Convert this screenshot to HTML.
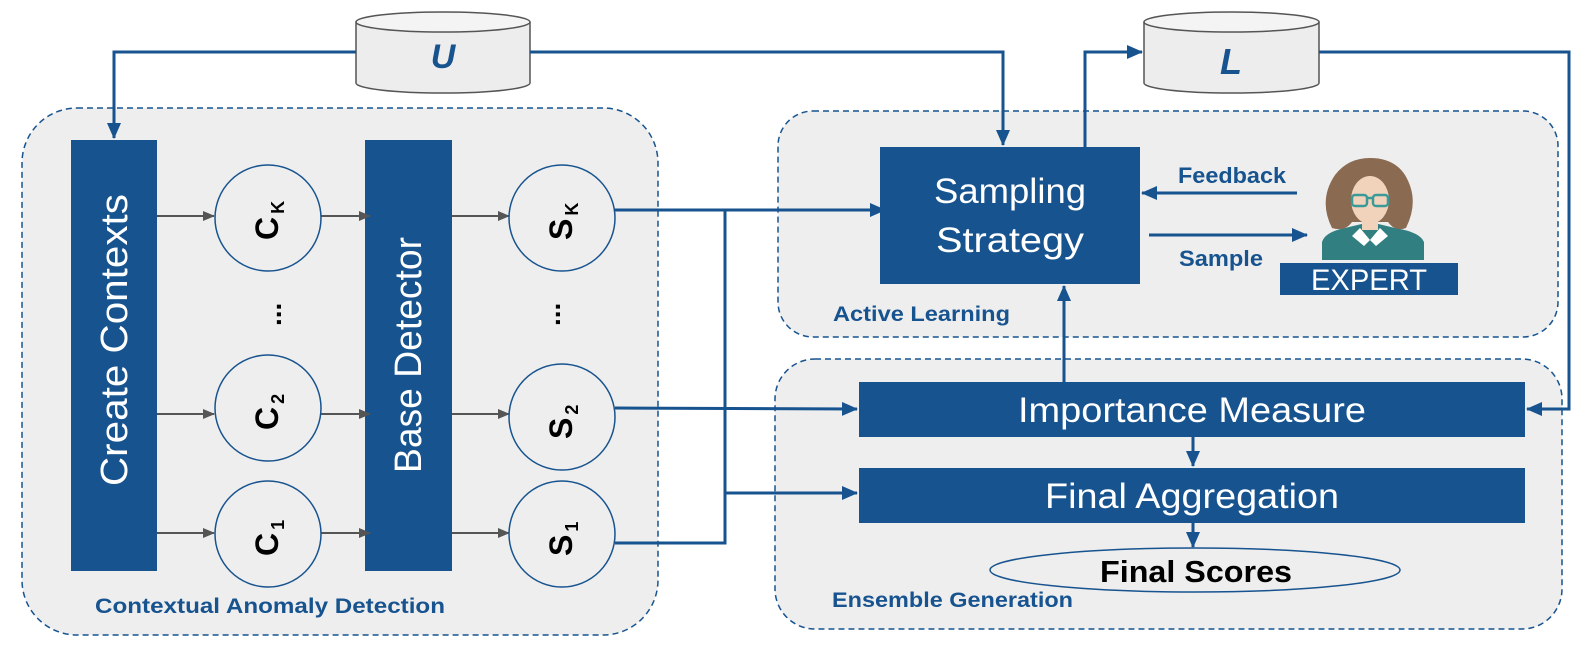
<!DOCTYPE html>
<html><head><meta charset="utf-8"><style>
html,body{margin:0;padding:0;background:#fff}
svg{display:block}
text{font-family:"Liberation Sans",sans-serif}
</style></head><body>
<svg width="1586" height="652" viewBox="0 0 1586 652" xmlns="http://www.w3.org/2000/svg">
<defs>
<marker id="ag" markerWidth="12" markerHeight="10" refX="11" refY="5" orient="auto" markerUnits="userSpaceOnUse" viewBox="0 0 12 10"><path d="M0,0 L12,5 L0,10 z" fill="#555"/></marker>
<marker id="abL" markerWidth="16" markerHeight="14" refX="15" refY="7" orient="auto" markerUnits="userSpaceOnUse" viewBox="0 0 16 14"><path d="M0,0 L16,7 L0,14 z" fill="#17538f"/></marker>
</defs>
<rect x="22" y="108" width="636" height="527" rx="55" fill="#eeeeee" stroke="#17538f" stroke-width="1.5" stroke-dasharray="6,4"/>
<rect x="778" y="111" width="780" height="226" rx="35" fill="#eeeeee" stroke="#17538f" stroke-width="1.5" stroke-dasharray="6,4"/>
<rect x="775" y="359" width="787" height="270" rx="40" fill="#eeeeee" stroke="#17538f" stroke-width="1.5" stroke-dasharray="6,4"/>

<g stroke="#555" stroke-width="1.5" fill="#ededed">
<path d="M356,22 L356,83 A87,10 0 0 0 530,83 L530,22"/>
<ellipse cx="443" cy="22" rx="87" ry="10" fill="#f4f4f4"/>
<path d="M1144,22 L1144,83 A87.5,10 0 0 0 1319,83 L1319,22"/>
<ellipse cx="1231.5" cy="22" rx="87.5" ry="10" fill="#f4f4f4"/>
</g>
<text x="443" y="68" text-anchor="middle" font-family="Liberation Serif,serif" font-style="italic" font-weight="bold" font-size="34" fill="#17538f">U</text>
<text x="1231" y="74" text-anchor="middle" font-family="Liberation Serif,serif" font-style="italic" font-weight="bold" font-size="36" fill="#17538f">L</text>

<g stroke="#17538f" stroke-width="3" fill="none">
<path d="M356,52 L114,52 L114,138" marker-end="url(#abL)"/>
<path d="M530,52 L1003,52 L1003,145" marker-end="url(#abL)"/>
<path d="M1085,147 L1085,52 L1142,52" marker-end="url(#abL)"/>
<path d="M1319,52 L1569,52 L1569,409 L1527,409" marker-end="url(#abL)"/>
<path d="M615,210 L885,210" marker-end="url(#abL)"/>
<path d="M615,408 L857,409" marker-end="url(#abL)"/>
<path d="M725,493 L857,493" marker-end="url(#abL)"/>
<path d="M615,543 L725,543 L725,210"/>
<path d="M1064,382 L1064,286" marker-end="url(#abL)"/>
<path d="M1297,193 L1142,193" marker-end="url(#abL)"/>
<path d="M1149,235 L1307,235" marker-end="url(#abL)"/>
<path d="M1193,437 L1193,466" marker-end="url(#abL)"/>
<path d="M1193,523 L1193,547" marker-end="url(#abL)"/>
</g>

<rect x="71" y="140" width="86" height="431" fill="#17538f"/>
<rect x="365" y="140" width="87" height="431" fill="#17538f"/>
<text transform="translate(127,340) rotate(-90)" text-anchor="middle" font-size="38" fill="#fff" textLength="292" lengthAdjust="spacingAndGlyphs">Create Contexts</text>
<text transform="translate(421,355) rotate(-90)" text-anchor="middle" font-size="38" fill="#fff" textLength="236" lengthAdjust="spacingAndGlyphs">Base Detector</text>

<g stroke="#555" stroke-width="2" fill="none">
<path d="M157,216 L214,216" marker-end="url(#ag)"/>
<path d="M321,216 L370,216" marker-end="url(#ag)"/>
<path d="M452,216 L509,216" marker-end="url(#ag)"/>
<path d="M157,414 L214,414" marker-end="url(#ag)"/>
<path d="M321,414 L370,414" marker-end="url(#ag)"/>
<path d="M452,414 L509,414" marker-end="url(#ag)"/>
<path d="M157,533 L214,533" marker-end="url(#ag)"/>
<path d="M321,533 L370,533" marker-end="url(#ag)"/>
<path d="M452,533 L509,533" marker-end="url(#ag)"/>
</g>

<g fill="#eeeeee" stroke="#17538f" stroke-width="1.5">
<circle cx="268" cy="218" r="53"/>
<circle cx="268" cy="408" r="53"/>
<circle cx="268" cy="534" r="53"/>
<circle cx="562" cy="218" r="53"/>
<circle cx="562" cy="417" r="53"/>
<circle cx="562" cy="534" r="53"/>
</g>
<g font-weight="bold" fill="#000" font-size="32">
<text transform="translate(278,240) rotate(-90)">C<tspan font-size="18" dx="3" dy="6">K</tspan></text>
<text transform="translate(278,430) rotate(-90)">C<tspan font-size="18" dx="3" dy="6">2</tspan></text>
<text transform="translate(278,556) rotate(-90)">C<tspan font-size="18" dx="3" dy="6">1</tspan></text>
<text transform="translate(572,240) rotate(-90)">S<tspan font-size="18" dx="3" dy="6">K</tspan></text>
<text transform="translate(572,439) rotate(-90)">S<tspan font-size="18" dx="3" dy="6">2</tspan></text>
<text transform="translate(572,556) rotate(-90)">S<tspan font-size="18" dx="3" dy="6">1</tspan></text>
<text transform="translate(281,326) rotate(-90)" font-size="28">...</text>
<text transform="translate(560,326) rotate(-90)" font-size="28">...</text>
</g>

<rect x="880" y="147" width="260" height="137" fill="#17538f"/>
<text x="1010" y="203" text-anchor="middle" font-size="35" fill="#fff" textLength="152" lengthAdjust="spacingAndGlyphs">Sampling</text>
<text x="1010" y="252" text-anchor="middle" font-size="35" fill="#fff" textLength="148" lengthAdjust="spacingAndGlyphs">Strategy</text>
<rect x="859" y="382" width="666" height="55" fill="#17538f"/>
<text x="1192" y="422" text-anchor="middle" font-size="35" fill="#fff" textLength="348" lengthAdjust="spacingAndGlyphs">Importance Measure</text>
<rect x="859" y="468" width="666" height="55" fill="#17538f"/>
<text x="1192" y="508" text-anchor="middle" font-size="35" fill="#fff" textLength="294" lengthAdjust="spacingAndGlyphs">Final Aggregation</text>
<ellipse cx="1195" cy="570" rx="205" ry="22" fill="#eeeeee" stroke="#17538f" stroke-width="1.5"/>
<text x="1196" y="582" text-anchor="middle" font-size="31" font-weight="bold" fill="#000" textLength="192" lengthAdjust="spacingAndGlyphs">Final Scores</text>

<text x="1178" y="183" font-size="22" font-weight="bold" fill="#17538f" textLength="108" lengthAdjust="spacingAndGlyphs">Feedback</text>
<text x="1179" y="266" font-size="22" font-weight="bold" fill="#17538f" textLength="84" lengthAdjust="spacingAndGlyphs">Sample</text>

<path d="M1322,260 L1322,242 Q1325,232 1345,228 L1370,222 L1395,228 Q1420,232 1424,242 L1424,260 z" fill="#317f80"/>
<path d="M1332,228 Q1318,200 1335,175 Q1348,158 1370,158 Q1394,158 1405,175 Q1420,200 1406,228 Q1395,232 1388,222 L1352,222 Q1345,232 1332,228 z" fill="#8b6a52"/>
<ellipse cx="1370" cy="200" rx="19" ry="24" fill="#f1d3bc"/>
<path d="M1362,218 L1378,218 L1378,230 L1362,230 z" fill="#f1d3bc"/>
<path d="M1360,228 L1370,240 L1380,228 L1388,236 L1376,246 L1370,240 L1364,246 L1352,236 z" fill="#fff"/>
<g stroke="#3a9a98" stroke-width="2.5" fill="none"><rect x="1352" y="195" width="15" height="11" rx="3"/><rect x="1373" y="195" width="15" height="11" rx="3"/><path d="M1367,198 L1373,198"/></g>
<rect x="1280" y="263" width="178" height="32" fill="#17538f"/>
<text x="1369" y="290" text-anchor="middle" font-size="30" fill="#fff" textLength="116" lengthAdjust="spacingAndGlyphs">EXPERT</text>

<g font-size="21" font-weight="bold" fill="#17538f">
<text x="95" y="613" textLength="350" lengthAdjust="spacingAndGlyphs">Contextual Anomaly Detection</text>
<text x="833" y="321" textLength="177" lengthAdjust="spacingAndGlyphs">Active Learning</text>
<text x="832" y="607" textLength="241" lengthAdjust="spacingAndGlyphs">Ensemble Generation</text>
</g>
</svg>
</body></html>
